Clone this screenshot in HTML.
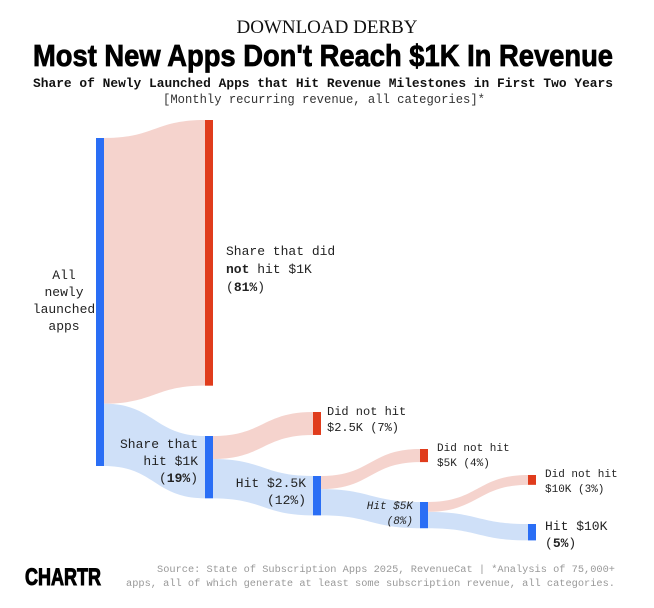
<!DOCTYPE html>
<html><head><meta charset="utf-8">
<style>
html,body{margin:0;padding:0;background:#fff;}
svg{display:block;}
.mono{font-family:"Liberation Mono",monospace;}
</style></head>
<body>
<svg id="chart" width="654" height="608" viewBox="0 0 654 608" xmlns="http://www.w3.org/2000/svg">
  <text x="327" y="33" text-anchor="middle" font-family="Liberation Serif, serif" font-size="19" fill="#111">DOWNLOAD DERBY</text>
  <text x="323" y="66" text-anchor="middle" font-family="Liberation Sans, sans-serif" font-weight="bold" font-size="31" fill="#000" stroke="#000" stroke-width="0.8" textLength="580" lengthAdjust="spacingAndGlyphs">Most New Apps Don't Reach $1K In Revenue</text>
  <text x="323" y="87" text-anchor="middle" class="mono" font-weight="bold" font-size="12.5" fill="#111" textLength="580" lengthAdjust="spacingAndGlyphs">Share of Newly Launched Apps that Hit Revenue Milestones in First Two Years</text>
  <text x="324" y="103" text-anchor="middle" class="mono" font-size="13" fill="#333" textLength="322" lengthAdjust="spacingAndGlyphs">[Monthly recurring revenue, all categories]*</text>
  <g id="flows"></g>
  <g id="nodes"></g>
  <g class="mono" font-size="13" fill="#222">
    <text x="64" y="279" text-anchor="middle"><tspan x="64">All</tspan><tspan x="64" dy="17">newly</tspan><tspan x="64" dy="17">launched</tspan><tspan x="64" dy="17">apps</tspan></text>
    <text x="226" y="255"><tspan x="226">Share that did</tspan><tspan x="226" dy="18"><tspan font-weight="bold">not</tspan> hit $1K</tspan><tspan x="226" dy="18">(<tspan font-weight="bold">81%</tspan>)</tspan></text>
    <text x="198" y="448" text-anchor="end"><tspan x="198">Share that</tspan><tspan x="198" dy="17">hit $1K</tspan><tspan x="198" dy="17">(<tspan font-weight="bold">19%</tspan>)</tspan></text>
    <text x="327" y="415" font-size="12"><tspan x="327">Did not hit</tspan><tspan x="327" dy="16">$2.5K (7%)</tspan></text>
    <text x="306" y="487" text-anchor="end"><tspan x="306">Hit $2.5K</tspan><tspan x="306" dy="17">(12%)</tspan></text>
    <text x="437" y="451" font-size="11"><tspan x="437">Did not hit</tspan><tspan x="437" dy="15">$5K (4%)</tspan></text>
    <text x="413" y="509" text-anchor="end" font-size="11" font-style="italic"><tspan x="413">Hit $5K</tspan><tspan x="413" dy="15">(8%)</tspan></text>
    <text x="545" y="477" font-size="11"><tspan x="545">Did not hit</tspan><tspan x="545" dy="15">$10K (3%)</tspan></text>
    <text x="545" y="530"><tspan x="545">Hit $10K</tspan><tspan x="545" dy="17">(<tspan font-weight="bold">5%</tspan>)</tspan></text>
  </g>
  <text x="25" y="585" font-family="Liberation Sans, sans-serif" font-weight="bold" font-size="24" fill="#000" stroke="#000" stroke-width="1" textLength="76" lengthAdjust="spacingAndGlyphs">CHARTR</text>
  <text x="615" y="572" text-anchor="end" class="mono" font-size="10" fill="#999" textLength="458" lengthAdjust="spacingAndGlyphs">Source: State of Subscription Apps 2025, RevenueCat | *Analysis of 75,000+</text>
  <text x="615" y="586" text-anchor="end" class="mono" font-size="10" fill="#999" textLength="489" lengthAdjust="spacingAndGlyphs">apps, all of which generate at least some subscription revenue, all categories.</text>
</svg>
<script>
// Data (percent of newly launched apps)
const nodeNames = ["all","not1k","hit1k","not2_5k","hit2_5k","not5k","hit5k","not10k","hit10k"];
const nodeValues = [100, 81, 19, 7, 12, 4, 8, 3, 5];
const linkSource = [0, 0, 2, 2, 4, 4, 6, 6];
const linkTarget = [1, 2, 3, 4, 5, 6, 7, 8];
const linkValues = [81, 19, 7, 12, 4, 8, 3, 5];

// Layout (not data)
const scale = 3.28;
const nodeX = [96, 205, 205, 313, 313, 420, 420, 528, 528];
const nodeTop = [138, 120, 436, 412, 476, 449, 502, 475, 524];
const nodeW = 8;
const isHit = [true,false,true,false,true,false,true,false,true];
const BLUE="#2a6ef5", RED="#e03c1c", FLOW_BLUE="#cfe0f8", FLOW_RED="#f5d3cd";
const NS="http://www.w3.org/2000/svg";
const y = v => v*scale;

const outOff = nodeValues.map(()=>0), inOff = nodeValues.map(()=>0);
const flowsG = document.getElementById('flows');
for (let i=0;i<linkValues.length;i++){
  const s=linkSource[i], t=linkTarget[i], h=y(linkValues[i]);
  const x0=nodeX[s]+nodeW, x1=nodeX[t];
  const y0=nodeTop[s]+outOff[s], y1=nodeTop[t]+inOff[t];
  outOff[s]+=h; inOff[t]+=h;
  const xm=(x0+x1)/2;
  const p=document.createElementNS(NS,'path');
  p.setAttribute('d',`M${x0},${y0} C${xm},${y0} ${xm},${y1} ${x1},${y1} L${x1},${y1+h} C${xm},${y1+h} ${xm},${y0+h} ${x0},${y0+h} Z`);
  p.setAttribute('fill', isHit[t]?FLOW_BLUE:FLOW_RED);
  
  
  flowsG.appendChild(p);
}
const nodesG=document.getElementById('nodes');
for (let i=0;i<nodeValues.length;i++){
  const r=document.createElementNS(NS,'rect');
  r.setAttribute('x',nodeX[i]); r.setAttribute('y',nodeTop[i]);
  r.setAttribute('width',nodeW); r.setAttribute('height',y(nodeValues[i]));
  r.setAttribute('fill', isHit[i]?BLUE:RED);
  
  
  nodesG.appendChild(r);
}
</script>
</body></html>
